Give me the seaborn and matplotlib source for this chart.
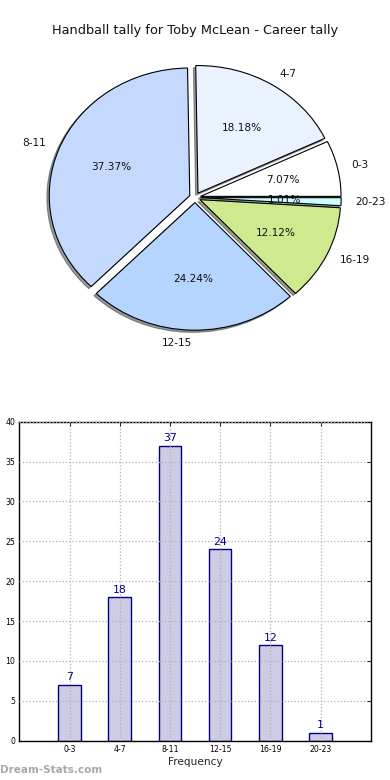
import matplotlib
matplotlib.use("Agg")
import matplotlib.pyplot as plt
import seaborn as sns
import pandas as pd

categories = ["0-3", "4-7", "8-11", "12-15", "16-19", "20-23"]
values = [7, 18, 37, 24, 12, 1]
pie_colors = ["#ffffff", "#eaf1ff", "#c5d9ff", "#b5d5ff", "#cfe98e", "#ccffff"]
title = "Handball tally for Toby McLean - Career tally"
y_ticks = [0, 5, 10, 15, 20, 25, 30, 35, 40]

sns.set_style("white")
plt.rcParams["font.family"] = ["DejaVu Sans"]

fig = plt.figure(figsize=(3.9, 7.8), dpi=100)

# ---- Pie ----
ax1 = fig.add_axes([19.3 / 390, 423 / 780, 351.4 / 390, 319 / 780])
wedges, texts, autotexts = ax1.pie(
    values, labels=categories, colors=pie_colors, explode=[0.04] * len(values),
    autopct="%1.2f%%", shadow={"ox": -0.012, "oy": -0.012, "shade": 0.75},
    startangle=0, counterclock=True,
    wedgeprops={"edgecolor": "black", "linewidth": 0.8},
    textprops={"fontsize": 7.6, "color": "#111111"},
)
ax1.set_aspect("auto")
ax1.set_xlim(-1.25, 1.25)
ax1.set_ylim(-1.25, 1.25)
ax1.set_axis_off()
ax1.set_title(title, fontsize=9.3, pad=3, color="#111111")

# ---- Bar ----
ax2 = fig.add_axes([19.3 / 390, 39.3 / 780, 351.4 / 390, 319 / 780])
df = pd.DataFrame({"cat": categories, "val": values})
sns.barplot(data=df, x="cat", y="val", ax=ax2, color="#ccccE4",
            edgecolor="#000080", linewidth=1.0, width=0.45, saturation=1)
ax2.set_xlim(-1, len(categories))
ax2.set_ylim(0, 40)
ax2.set_yticks(y_ticks)
ax2.set_axisbelow(False)
ax2.grid(True, linestyle=":", color="#b0b0b0", linewidth=0.9)
for s in ax2.spines.values():
    s.set_color("black")
    s.set_linewidth(1.0)
ax2.tick_params(direction="in", top=True, right=True, length=3, labelsize=5.6,
                colors="black", width=0.6, pad=3)
ax2.set_xlabel("Frequency", fontsize=7.6, labelpad=2)
ax2.set_ylabel("")
for i, v in enumerate(values):
    ax2.text(i, v + 0.3, str(v), ha="center", va="bottom", fontsize=7.8, color="#000090")

fig.text(0.0, 780 - 770, "Dream-Stats.com", transform=None, fontsize=7.5,
         fontweight="bold", color="#a8a8a8", ha="left", va="center")

fig.savefig("out.png", dpi=100)
